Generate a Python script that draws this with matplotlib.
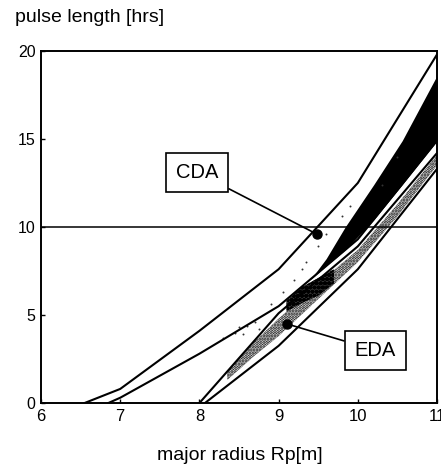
import numpy as np
import matplotlib
matplotlib.use("Agg")
import matplotlib.pyplot as plt

plt.rcParams["font.family"] = ["Liberation Sans", "DejaVu Sans"]
plt.rcParams["hatch.linewidth"] = 1.5

# Courbes limites (noeuds)
R_CDA_HAUT = [6.55, 7.0, 8.0, 9.0, 10.0, 11.0]
Y_CDA_HAUT = [0.0, 0.8, 4.1, 7.6, 12.5, 19.8]

R_CDA_BAS = [6.85, 7.0, 8.0, 9.0, 10.0, 11.0]
Y_CDA_BAS = [0.0, 0.3, 2.8, 5.5, 9.3, 14.9]

R_EDA_HAUT = [8.0, 9.0, 10.0, 11.0]
Y_EDA_HAUT = [0.0, 5.1, 8.9, 14.2]

R_EDA_BAS = [8.07, 9.0, 10.0, 11.0]
Y_EDA_BAS = [0.0, 3.25, 7.6, 13.3]

# Bande dense (noire) des points CDA
R_BANDE_CDA = [9.4, 9.6, 9.84, 10.2, 10.56, 11.0]
Y_BANDE_CDA_BAS = [7.0, 7.8, 8.7, 10.4, 12.4, 14.9]
Y_BANDE_CDA_HAUT = [7.0, 8.2, 10.0, 12.4, 14.9, 18.6]

# Nuage de points EDA
R_NUAGE_EDA = [8.35, 8.7, 9.0, 9.5, 10.0, 10.5, 11.0]
Y_NUAGE_EDA_BAS = [1.3, 2.7, 3.8, 5.9, 8.0, 10.6, 13.5]
Y_NUAGE_EDA_HAUT = [1.8, 3.5, 4.8, 6.8, 8.7, 11.3, 14.1]

R_AMAS_EDA = [9.1, 9.3, 9.5, 9.7]
Y_AMAS_EDA_BAS = [5.2, 5.7, 6.1, 6.8]
Y_AMAS_EDA_HAUT = [5.8, 6.6, 7.1, 7.6]

# Points isoles CDA
R_POINTS_CDA = [8.3, 8.45, 8.5, 8.55, 8.6, 8.7, 8.75, 9.2, 9.3, 9.35, 9.5,
                9.6, 9.8, 9.9, 10.3, 10.5, 8.9, 9.05]
Y_POINTS_CDA = [3.7, 4.0, 4.3, 3.9, 4.4, 4.6, 4.2, 7.0, 7.6, 8.0, 8.9,
                9.6, 10.6, 11.2, 12.4, 14.0, 5.6, 6.3]

# Annotations
NOMS = ["CDA", "EDA"]
POS_BOITE = [(7.97, 13.1), (10.22, 3.0)]
POS_POINT = [(9.48, 9.6), (9.1, 4.5)]

X_TICKS = [6, 7, 8, 9, 10, 11]
Y_TICKS = [0, 5, 10, 15, 20]


def main():
    fig = plt.figure(figsize=(4.41, 4.67), dpi=100)
    ax = fig.add_axes([0.093, 0.137, 0.898, 0.754])

    ax.fill_between(R_BANDE_CDA, Y_BANDE_CDA_BAS, Y_BANDE_CDA_HAUT,
                    color="black", linewidth=0)
    ax.fill_between(R_NUAGE_EDA, Y_NUAGE_EDA_BAS, Y_NUAGE_EDA_HAUT,
                    facecolor="none", edgecolor="black", hatch="......",
                    linewidth=0)
    ax.fill_between(R_AMAS_EDA, Y_AMAS_EDA_BAS, Y_AMAS_EDA_HAUT,
                    facecolor="0.2", edgecolor="black", hatch="oooo",
                    linewidth=0)
    ax.scatter(R_POINTS_CDA, Y_POINTS_CDA, s=2, color="0.2", linewidths=0)

    for r, y in [(R_CDA_HAUT, Y_CDA_HAUT), (R_CDA_BAS, Y_CDA_BAS),
                 (R_EDA_HAUT, Y_EDA_HAUT), (R_EDA_BAS, Y_EDA_BAS)]:
        ax.plot(r, y, color="black", linewidth=1.5)

    ax.axhline(10, color="black", linewidth=1.1)

    for nom, boite, point in zip(NOMS, POS_BOITE, POS_POINT):
        ax.plot(point[0], point[1], "o", color="black", markersize=6.5)
        ax.annotate(nom, xy=point, xytext=boite, ha="center", va="center",
                    fontsize=14.5,
                    bbox=dict(boxstyle="square,pad=0.5", facecolor="white",
                              edgecolor="black", linewidth=1.2),
                    arrowprops=dict(arrowstyle="-", color="black",
                                    linewidth=1.2, shrinkA=0, shrinkB=0))

    ax.set_xlim(6, 11)
    ax.set_ylim(0, 20)
    ax.set_xticks(X_TICKS)
    ax.set_yticks(Y_TICKS)
    ax.tick_params(direction="in", length=3, width=1, pad=4)
    ax.tick_params(axis="x", labelsize=12)
    ax.tick_params(axis="y", labelsize=11.5)
    for spine in ax.spines.values():
        spine.set_linewidth(1.4)

    fig.text(15 / 441, 1 - 18 / 467, "pulse length [hrs]", fontsize=14,
             ha="left", va="center")
    fig.text(240 / 441, 1 - 455 / 467, "major radius Rp[m]", fontsize=14,
             ha="center", va="center")

    fig.savefig("out.png", dpi=100)


if __name__ == "__main__":
    main()
